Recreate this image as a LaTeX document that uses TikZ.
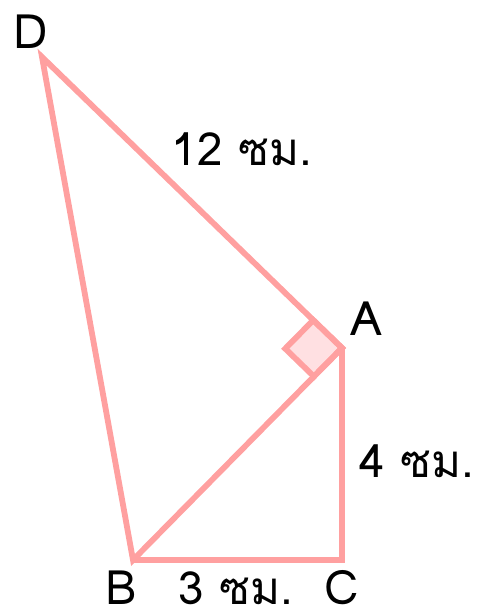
\documentclass[tikz,border=0pt]{standalone}
\usepackage{fontspec}
\newfontfamily\thaifont[Script=Thai]{Loma}
\usepackage{tikz}
\usetikzlibrary{calc}
\usepackage{xcolor}
\definecolor{Rose}{HTML}{FFA0A0}
\definecolor{RoseClair}{HTML}{FFE0E2}

\begin{document}
\begin{tikzpicture}[x=0.02cm,y=-0.02cm,
  cote/.style={draw=Rose,line width=3.3pt,line join=miter},
  lettre/.style={anchor=base,inner sep=0pt,text depth=0pt,font=\thaifont\fontsize{27}{30}\selectfont},
  mesure/.style={anchor=base,inner sep=0pt,text depth=0pt,font=\thaifont\fontsize{26}{30}\selectfont}]
\useasboundingbox (0,0) rectangle (477,616);
% Sommets
\coordinate (D) at (42,57);
\coordinate (A) at (342,348);
\coordinate (B) at (133,560);
\coordinate (C) at (342,560);

% Angle droit en A
\coordinate (a1) at ($(A)!0.8cm!(D)$);
\coordinate (a2) at ($(A)!0.8cm!(B)$);
\draw[cote,fill=RoseClair] (A) -- (a1) -- ($(a1)+(a2)-(A)$) -- (a2) -- cycle;

% Triangles
\draw[cote] (D) -- (A) -- (B) -- cycle;
\draw[cote] (A) -- (C) -- (B);

% Lettres
\node[lettre] (nD) at (31,48) {D};
\node[lettre] (nA) at (366,335) {A};
\node[lettre] (nB) at (121,604) {B};
\node[lettre] (nC) at (342,604) {C};

% Longueurs
\node[mesure] (lDA) at (242,165) {12 ซม.};
\node[mesure] (lAC) at (417,477) {4 ซม.};
\node[mesure] (lBC) at (236,604) {3 ซม.};
\end{tikzpicture}
\end{document}
